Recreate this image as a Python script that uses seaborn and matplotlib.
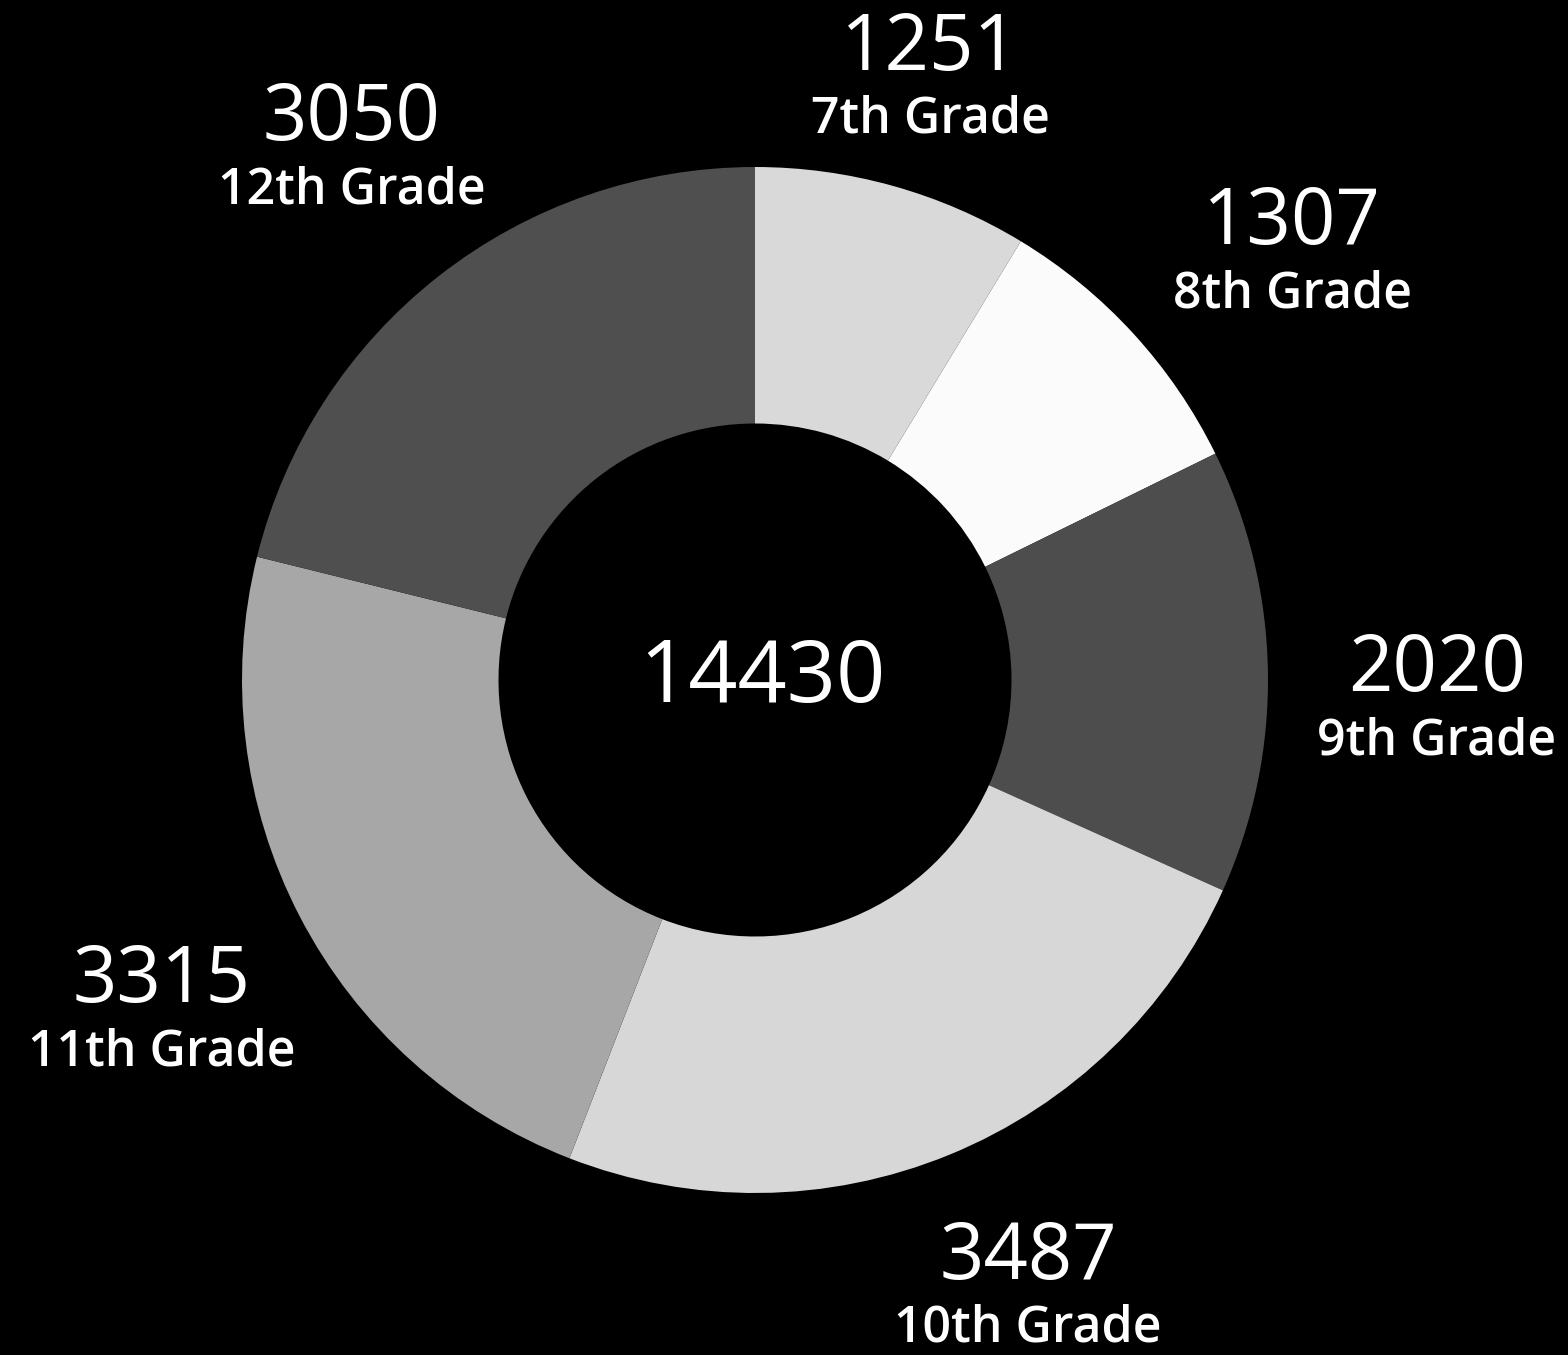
import numpy as np
import matplotlib
matplotlib.use("Agg")
import matplotlib.pyplot as plt
import seaborn as sns

# grades and enrolment counts, clockwise from the top
grades = ['7th Grade', '8th Grade', '9th Grade', '10th Grade', '11th Grade', '12th Grade']
counts = [1251, 1307, 2020, 3487, 3315, 3050]
greys = ['#d9d9d9', '#fbfbfb', '#4d4d4d', '#d7d7d7', '#a7a7a7', '#4f4f4f']

# label placement: distance (x ring radius) and small turn (deg) off the wedge middle
label_r = [1.21, 1.33, 1.33, 1.31, 1.33, 1.29]
label_turn = [-0.8, -4.4, -3.2, 1.7, 2.2, -0.5]

sns.set_theme(style='white')
plt.rcParams['font.family'] = ['Open Sans', 'DejaVu Sans']

W, H = 1568, 1355
fig = plt.figure(figsize=(W / 100, H / 100), dpi=100, facecolor='black')
ax = fig.add_axes([0, 0, 1, 1])
ax.set_facecolor('black')

cx, cy, R = 755, H - 680, 513
wedges, _ = ax.pie(counts, colors=greys, startangle=90, counterclock=False,
                   center=(cx, cy), radius=R, frame=True,
                   wedgeprops=dict(width=R * 0.5, linewidth=0))
ax.set_xlim(0, W)
ax.set_ylim(0, H)
ax.set_aspect('equal')
ax.axis('off')

for w, g, n, f, t in zip(wedges, grades, counts, label_r, label_turn):
    mid = np.deg2rad((w.theta1 + w.theta2) / 2 + t)
    x = cx + f * R * np.cos(mid)
    y = cy + f * R * np.sin(mid)
    ax.text(x, y - 4, str(n), color='white', fontsize=56, fontweight='normal',
            ha='center', va='bottom')
    ax.text(x, y - 10, g, color='white', fontsize=36, fontweight='semibold',
            ha='center', va='top')

ax.text(cx + 7, cy, str(sum(counts)), color='white', fontsize=62,
        fontweight='normal', ha='center', va='center')

fig.savefig('out.png', dpi=100, facecolor='black')
